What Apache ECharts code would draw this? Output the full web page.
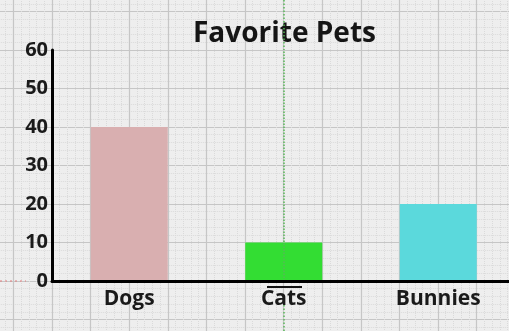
<!DOCTYPE html>
<html><head><meta charset="utf-8">
<script src="https://cdn.jsdelivr.net/npm/echarts@6/dist/echarts.min.js"></script>
<style>html,body{margin:0;padding:0;background:#eeeeee}#c{width:509px;height:331px}</style>
</head><body><div id="c"></div>
<script>
const categories = ['Dogs', 'Cats', 'Bunnies'];
const values = [40, 10, 20];
const barColors = ['#d9afb0', '#33dd33', '#5bd9dc'];
const yTicks = [0, 10, 20, 30, 40, 50, 60];
const title = 'Favorite Pets';

const chart = echarts.init(document.getElementById('c'));
const fontFamily = '"Open Sans", Roboto, sans-serif';
chart.setOption({
  backgroundColor: '#eeeeee',
  animation: false,
  title: {
    text: title, left: 188, top: 15,
    textStyle: { fontFamily, fontSize: 28, fontWeight: 'bold', color: '#151515' }
  },
  grid: [
    { left: 52, width: 463.5, top: 50, bottom: 50, outerBoundsMode: 'none' },
    { left: -25.2, top: -27, width: 540.4, height: 385, outerBoundsMode: 'none' }
  ],
  xAxis: [
    {
      type: 'category', data: categories, gridIndex: 0,
      axisLine: { lineStyle: { color: '#000', width: 3 } },
      axisTick: { show: false },
      axisLabel: { fontFamily, fontSize: 21, fontWeight: 'bold', color: '#1a1a1a', margin: 8 },
      splitLine: { show: false }, z: 5
    },
    {
      type: 'value', gridIndex: 1, min: -2, max: 12, interval: 1,
      axisLine: { show: false }, axisTick: { show: false }, axisLabel: { show: false },
      splitLine: { show: true, lineStyle: { color: '#c6c6c6', width: 1.2 } },
      minorTick: { show: false, splitNumber: 5 },
      minorSplitLine: { show: true, lineStyle: { color: '#dadada', type: 'dotted', width: 1 } },
      z: 0
    }
  ],
  yAxis: [
    {
      type: 'value', gridIndex: 0, min: 0, max: 60, interval: 10,
      axisLine: { show: true, lineStyle: { color: '#000', width: 3 } },
      axisTick: { show: false },
      axisLabel: { fontFamily, fontSize: 20, fontWeight: 'bold', color: '#1a1a1a', margin: 4,
        formatter: v => yTicks.includes(v) ? String(v) : '' },
      splitLine: { show: false }, z: 5
    },
    {
      type: 'value', gridIndex: 1, min: -20, max: 80, interval: 10,
      axisLine: { show: false }, axisTick: { show: false }, axisLabel: { show: false },
      splitLine: { show: true, lineStyle: { color: '#c6c6c6', width: 1.2 } },
      minorTick: { show: false, splitNumber: 5 },
      minorSplitLine: { show: true, lineStyle: { color: '#dadada', type: 'dotted', width: 1 } },
      z: 0
    }
  ],
  series: [
    {
      type: 'bar', xAxisIndex: 0, yAxisIndex: 0, barWidth: 77,
      data: values.map((v, i) => ({ value: v, itemStyle: { color: barColors[i] } })),
      markLine: {
        silent: true, symbol: 'none', label: { show: false },
        lineStyle: { color: '#58b858', type: 'dotted', width: 1.5 },
        data: [{ xAxis: 'Cats' }]
      },
      z: 3
    }
  ],
  graphic: [
    { type: 'line', shape: { x1: 0, y1: 281, x2: 26, y2: 281 }, style: { stroke: '#e07a7a', lineWidth: 1, lineDash: [2, 3] }, z: 10 },
    { type: 'line', shape: { x1: 267, y1: 287, x2: 302, y2: 287 }, style: { stroke: '#111', lineWidth: 2 }, z: 10 },
    { type: 'line', shape: { x1: 284, y1: 0, x2: 284, y2: 50 }, style: { stroke: '#58b858', lineWidth: 1.5, lineDash: [1.5, 2] }, z: 10 },
    { type: 'line', shape: { x1: 284, y1: 305, x2: 284, y2: 331 }, style: { stroke: '#58b858', lineWidth: 1.5, lineDash: [1.5, 2] }, z: 10 }
  ]
});
</script></body></html>
